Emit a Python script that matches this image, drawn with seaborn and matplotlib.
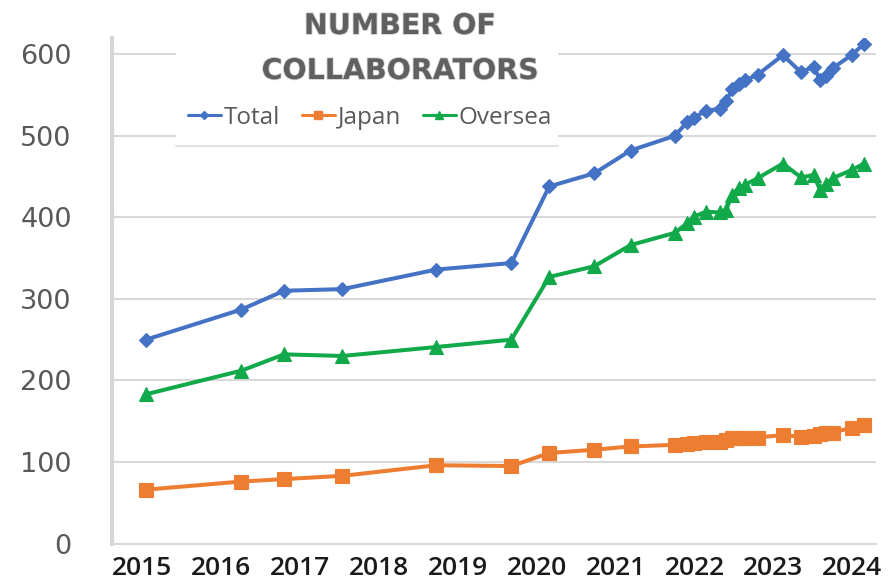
import matplotlib
matplotlib.use("Agg")
import matplotlib.pyplot as plt
import matplotlib.patheffects as pe
from matplotlib.patches import Rectangle
from matplotlib.lines import Line2D
import numpy as np
import pandas as pd
import seaborn as sns

# Survey dates (decimal years) and collaborator counts
dates = [2015.05, 2016.26, 2016.80, 2017.54, 2018.73, 2019.68, 2020.16, 2020.73,
         2021.19, 2021.75, 2021.91, 2021.99, 2022.15, 2022.32, 2022.40, 2022.48,
         2022.56, 2022.64, 2022.80, 2023.12, 2023.35, 2023.51, 2023.59, 2023.67,
         2023.75, 2023.99, 2024.15]
total = [250, 287, 310, 312, 336, 344, 438, 454, 482, 500, 517, 522, 531, 533,
         543, 557, 563, 568, 575, 599, 578, 585, 569, 574, 583, 599, 613]
japan = [66, 76, 79, 83, 96, 95, 111, 115, 119, 121, 122, 123, 124, 125,
         127, 129, 130, 130, 130, 133, 131, 132, 134, 135, 136, 142, 145]
oversea = [183, 212, 232, 230, 241, 250, 327, 340, 366, 381, 393, 401, 407, 406,
           409, 428, 436, 440, 448, 466, 449, 452, 434, 441, 448, 458, 466]

series_names = ["Total", "Japan", "Oversea"]
series_colors = ["#4472C4", "#ED7D31", "#12A94A"]
series_markers = ["D", "s", "^"]
marker_sizes = [7.0, 9.5, 9.5]
year_ticks = list(range(2015, 2025))
y_ticks = [0, 100, 200, 300, 400, 500, 600]
title_lines = ["NUMBER OF", "COLLABORATORS"]

W, H = 889, 584
sns.set_theme(style="white")
plt.rcParams["font.family"] = ["DejaVu Sans"]

fig = plt.figure(figsize=(W / 100, H / 100), dpi=100)
ax = fig.add_axes([112 / W, 40.5 / H, (876 - 112) / W, (543.5 - 38) / H])

df = pd.DataFrame({"date": dates, "Total": total, "Japan": japan, "Oversea": oversea})
for name, col, mk, ms in zip(series_names, series_colors, series_markers, marker_sizes):
    sns.lineplot(data=df, x="date", y=name, ax=ax, color=col, marker=mk,
                 markersize=ms, markeredgecolor=col, markeredgewidth=0.8,
                 linewidth=2.9, estimator=None, sort=False, label=name,
                 legend=False, zorder=3)

ax.set_xlim(2014.62, 2024.30)
ax.set_ylim(0, 620)
ax.set_yticks(y_ticks)
ax.set_xticks(year_ticks)
ax.set_xticklabels([str(y) for y in year_ticks], fontfamily="Open Sans",
                   fontweight="semibold", fontsize=19, color="#1a1a1a")
ax.set_yticklabels([str(v) for v in y_ticks], fontsize=19.5, color="#595959")
ax.tick_params(axis="y", length=0, pad=29)
ax.tick_params(axis="x", length=0, pad=9)
ax.set_xlabel("")
ax.set_ylabel("")

ax.set_axisbelow(True)
ax.yaxis.grid(True, color="#d9d9d9", linewidth=1.5)
ax.xaxis.grid(False)
for side in ["top", "right"]:
    ax.spines[side].set_visible(False)
ax.spines["left"].set_color("#d6d6d6")
ax.spines["left"].set_linewidth(3)
ax.spines["bottom"].set_color("#d9d9d9")
ax.spines["bottom"].set_linewidth(1.5)

# White panel behind the title and legend
panel = Rectangle((176 / W, 1 - 146 / H), (558 - 176) / W, 146 / H,
                  transform=fig.transFigure, facecolor="white", edgecolor="none",
                  zorder=1, clip_on=False)
ax.add_patch(panel)
ax.add_line(Line2D([176 / W, 558 / W], [1 - 146 / H, 1 - 146 / H],
                   transform=fig.transFigure, color="#e3e3e3", linewidth=1.5,
                   zorder=1.1, clip_on=False))

for line, ypx in zip(title_lines, [26, 71]):
    fig.text(400 / W, 1 - ypx / H, line, ha="center", va="center",
             fontsize=20.5, fontweight="bold", color="#606060",
             path_effects=[pe.withStroke(linewidth=1.2, foreground="#d0d0d0")])

handles = [Line2D([], [], color=c, marker=m, markersize=s * 0.6, linewidth=2.2,
                  markeredgecolor=c)
           for c, m, s in zip(series_colors, series_markers, marker_sizes)]
leg = fig.legend(handles, series_names, loc="center", ncol=3, frameon=False,
                 bbox_to_anchor=(370 / W, 1 - 118 / H),
                 prop={"family": "Open Sans", "size": 17.5},
                 handlelength=1.35, handletextpad=0.12, columnspacing=0.9)
for t in leg.get_texts():
    t.set_color("#595959")

fig.savefig("out.png", dpi=100)
